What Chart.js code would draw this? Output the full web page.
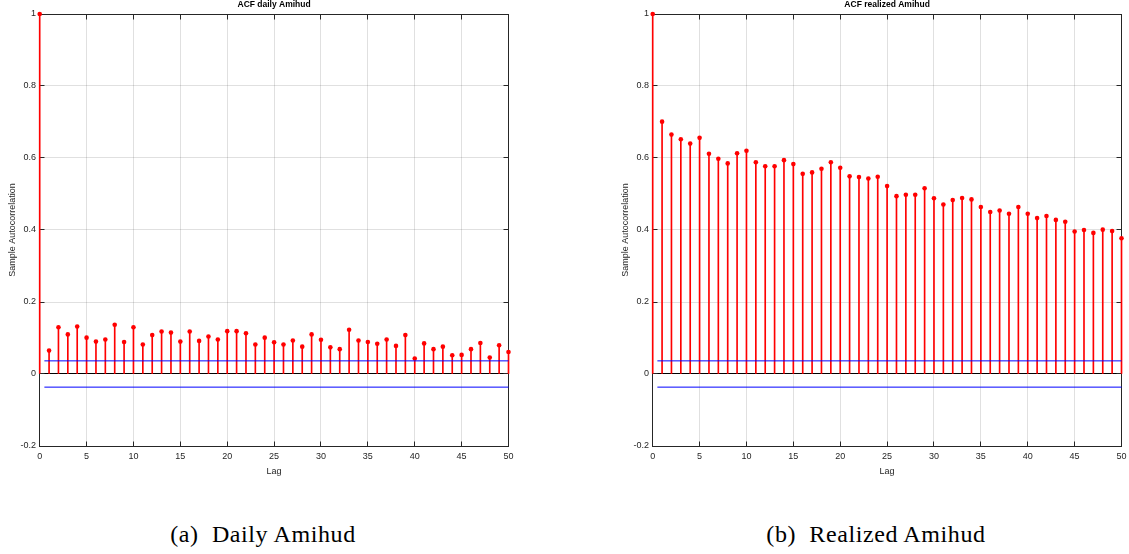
<!DOCTYPE html>
<html><head><meta charset="utf-8">
<script src="https://cdn.jsdelivr.net/npm/chart.js@4.4.0/dist/chart.umd.min.js"></script>
<style>
html,body{margin:0;padding:0;background:#fff;}
body{width:1129px;height:554px;position:relative;overflow:hidden;}
canvas{position:absolute;top:0;}
#c1{left:0;} #c2{left:613px;}
.cap{position:absolute;top:522px;font-family:'Liberation Serif',serif;font-size:24px;line-height:24px;letter-spacing:0.6px;white-space:pre;transform:translateX(-50%);color:#000;}
</style></head><body>
<canvas id="c1" width="520" height="480"></canvas>
<canvas id="c2" width="520" height="480"></canvas>
<div class="cap" style="left:263px">(a)  Daily Amihud</div>
<div class="cap" style="left:876px">(b)  Realized Amihud</div>
<script>
const lags = [0,1,2,3,4,5,6,7,8,9,10,11,12,13,14,15,16,17,18,19,20,21,22,23,24,25,26,27,28,29,30,31,32,33,34,35,36,37,38,39,40,41,42,43,44,45,46,47,48,49,50];
const dailyAcf = [1,
  0.065,0.130,0.110,0.132,0.101,0.090,0.096,0.137,0.089,0.130,
  0.082,0.108,0.118,0.115,0.090,0.118,0.092,0.104,0.096,0.119,
  0.119,0.113,0.082,0.101,0.088,0.082,0.093,0.076,0.110,0.095,
  0.074,0.069,0.123,0.093,0.089,0.084,0.096,0.078,0.108,0.043,
  0.085,0.069,0.076,0.052,0.053,0.069,0.086,0.046,0.080,0.061];
const realizedAcf = [1,
  0.701,0.665,0.652,0.640,0.656,0.612,0.598,0.585,0.613,0.620,
  0.588,0.577,0.577,0.594,0.583,0.556,0.560,0.570,0.588,0.573,
  0.549,0.547,0.543,0.548,0.522,0.494,0.498,0.498,0.516,0.488,
  0.471,0.483,0.489,0.485,0.464,0.450,0.454,0.445,0.464,0.445,
  0.433,0.439,0.428,0.423,0.396,0.400,0.392,0.401,0.397,0.377];
const boundLags = [0.5, 50];
const upperBound = [0.0365, 0.0365];
const lowerBound = [-0.0365, -0.0365];
const xTickValues = [0,5,10,15,20,25,30,35,40,45,50];
const yTickValues = [-0.2,0,0.2,0.4,0.6,0.8,1];
const titles = ['ACF daily Amihud', 'ACF realized Amihud'];
const xTitle = 'Lag';
const yTitle = 'Sample Autocorrelation';

const FONT = "'Liberation Sans', Arial, sans-serif";
const TICKC = '#262626';

const framePlugin = {
  id: 'frame',
  beforeDatasetsDraw(chart) {
    const {ctx, chartArea: a, scales: {x, y}} = chart;
    const L = Math.floor(a.left) + 0.5, R = Math.floor(a.right) + 0.5;
    const T = Math.floor(a.top) + 0.5, B = Math.floor(a.bottom) + 0.5;
    ctx.save();
    ctx.strokeStyle = TICKC; ctx.lineWidth = 1;
    ctx.strokeRect(L, T, R - L, B - T);
    ctx.beginPath();
    x.ticks.forEach(t => {
      const px = Math.floor(x.getPixelForValue(t.value)) + 0.5;
      ctx.moveTo(px, B); ctx.lineTo(px, B - 5);
      ctx.moveTo(px, T); ctx.lineTo(px, T + 5);
    });
    y.ticks.forEach(t => {
      const py = Math.floor(y.getPixelForValue(t.value)) + 0.5;
      ctx.moveTo(L, py); ctx.lineTo(L + 5, py);
      ctx.moveTo(R, py); ctx.lineTo(R - 5, py);
    });
    ctx.stroke();
    ctx.restore();
  }
};

function makeChart(id, values, title) {
  const pts = lags.map((l, i) => ({x: l, y: values[i]}));
  new Chart(document.getElementById(id), {
    type: 'bar',
    data: {
      datasets: [
        {type: 'line', data: boundLags.map((l, i) => ({x: l, y: upperBound[i]})), borderColor: '#0000ff', borderWidth: 1, pointRadius: 0, fill: false, clip: false},
        {type: 'line', data: boundLags.map((l, i) => ({x: l, y: lowerBound[i]})), borderColor: '#0000ff', borderWidth: 1, pointRadius: 0, fill: false, clip: false},
        {type: 'line', data: pts, showLine: false, pointRadius: 2.3, pointBackgroundColor: '#ff0000', pointBorderColor: '#ff0000', pointBorderWidth: 0, clip: false},
        {type: 'bar', data: pts, backgroundColor: '#ff0000', borderWidth: 0, barThickness: 1, grouped: false, clip: false}
      ]
    },
    options: {
      responsive: false,
      animation: false,
      devicePixelRatio: 1,
      layout: {padding: {left: 0, right: 11.5, top: 0, bottom: 0}},
      plugins: {
        legend: {display: false},
        tooltip: {enabled: false},
        title: {display: true, text: title, fullSize: false, color: '#000',
                font: {family: FONT, size: 8.5, weight: 'bold'}, padding: {top: 0, bottom: 3.8}}
      },
      scales: {
        x: {
          type: 'linear', min: 0, max: 50, offset: false,
          afterBuildTicks: s => { s.ticks = xTickValues.map(v => ({value: v})); },
          afterFit: s => { s.height = 34; },
          grid: {color: 'rgba(38,38,38,0.14)', drawTicks: false, offset: false},
          border: {display: false},
          ticks: {color: TICKC, font: {family: FONT, size: 9}, padding: 5.6, maxRotation: 0, autoSkip: false,
                  callback: v => String(Number(Number(v).toFixed(1)))},
          title: {display: true, text: xTitle, color: TICKC, font: {family: FONT, size: 9}, padding: {top: 0, bottom: 2.6}}
        },
        y: {
          type: 'linear', min: -0.2, max: 1,
          afterBuildTicks: s => { s.ticks = yTickValues.map(v => ({value: v})); },
          afterFit: s => { s.width = 39.7; },
          grid: {color: c => (c.tick && c.tick.value === 0) ? '#000000' : 'rgba(38,38,38,0.14)', drawTicks: false},
          border: {display: false},
          ticks: {color: TICKC, font: {family: FONT, size: 9}, padding: 3.7,
                  callback: v => String(Number(Number(v).toFixed(1)))},
          title: {display: true, text: yTitle, color: TICKC, font: {family: FONT, size: 9}, padding: {top: 7.6, bottom: 0}}
        }
      }
    },
    plugins: [framePlugin]
  });
}
makeChart('c1', dailyAcf, titles[0]);
makeChart('c2', realizedAcf, titles[1]);
</script>
</body></html>
